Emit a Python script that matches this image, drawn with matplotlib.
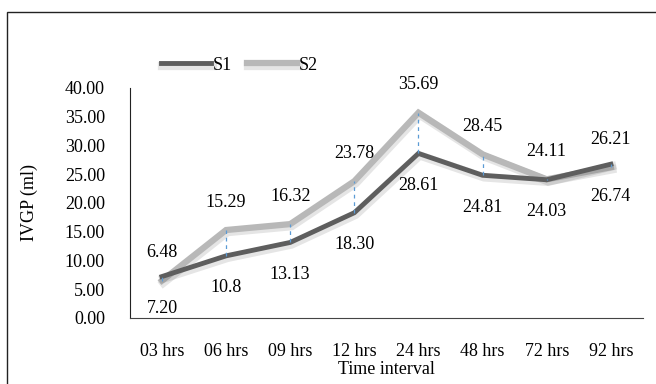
import numpy as np
import matplotlib
matplotlib.use('Agg')
import matplotlib.pyplot as plt
import matplotlib.patheffects as pe
from matplotlib.patches import Rectangle

plt.rcParams['font.family'] = ['Liberation Serif', 'DejaVu Serif']

hours = ['03 hrs', '06 hrs', '09 hrs', '12 hrs', '24 hrs', '48 hrs', '72 hrs', '92 hrs']
s1 = [7.20, 10.8, 13.13, 18.30, 28.61, 24.81, 24.03, 26.74]
s2 = [6.48, 15.29, 16.32, 23.78, 35.69, 28.45, 24.11, 26.21]
s1_text = ['7.20', '10.8', '13.13', '18.30', '28.61', '24.81', '24.03', '26.74']
s2_text = ['6.48', '15.29', '16.32', '23.78', '35.69', '28.45', '24.11', '26.21']
yticks = [0, 5, 10, 15, 20, 25, 30, 35, 40]

fs = 13

fig = plt.figure(figsize=(6.56, 3.84), dpi=100)
ax = fig.add_axes([0.198, 0.172, 0.782, 0.599])

x = np.arange(len(hours))

# hi-lo lines between the two series
ax.vlines(x, np.minimum(s1, s2), np.maximum(s1, s2), colors='#5B9BD5',
          linestyles=(0, (3, 3)), linewidth=0.9, zorder=4)

shadow = [pe.SimpleLineShadow(offset=(1, -1.5), shadow_color='#000000', alpha=0.1, linewidth=6),
          pe.Normal()]
l2, = ax.plot(x, s2, color='#B8B8B8', linewidth=4.5, solid_joinstyle='miter',
              path_effects=shadow, zorder=2, label='S2')
l1, = ax.plot(x, s1, color='#5E5E5E', linewidth=3.5, solid_joinstyle='miter',
              path_effects=shadow, zorder=3, label='S1')

for i in range(len(hours)):
    ax.annotate(s2_text[i], (x[i], s2[i]), xytext=(0, 20), textcoords='offset points',
                ha='center', va='center', fontsize=fs)
    ax.annotate(s1_text[i], (x[i], s1[i]), xytext=(0, -23), textcoords='offset points',
                ha='center', va='center', fontsize=fs)

ax.set_xlim(-0.5, len(hours) - 0.5)
ax.set_ylim(0, 40)
ax.set_xticks(x)
ax.set_xticklabels(hours, fontsize=fs)
ax.set_yticks(yticks)
ax.set_yticklabels(['%.2f' % v for v in yticks], fontsize=fs)
ax.tick_params(axis='both', length=0)
ax.tick_params(axis='x', pad=18)
ax.tick_params(axis='y', pad=18)
ax.spines['top'].set_visible(False)
ax.spines['right'].set_visible(False)
ax.spines['left'].set_color('#222222')
ax.spines['bottom'].set_color('#444444')
ax.set_xlabel('Time interval', fontsize=fs)
ax.xaxis.set_label_coords(0.5, -0.185)
ax.set_ylabel('IVGP (ml)', fontsize=fs)
ax.yaxis.set_label_coords(-0.18, 0.5)

fig.legend(handles=[l1, l2], loc='center', bbox_to_anchor=(0.365, 0.83), ncol=2,
           frameon=False, fontsize=fs, handlelength=2.8, handletextpad=0.1,
           columnspacing=0.8)

fig.patches.append(Rectangle((7 / 656, -0.05), 1.2, 1 - 12 / 384 + 0.05,
                             transform=fig.transFigure, fill=False,
                             edgecolor='#222222', linewidth=1))

fig.savefig('out.png', dpi=100)
